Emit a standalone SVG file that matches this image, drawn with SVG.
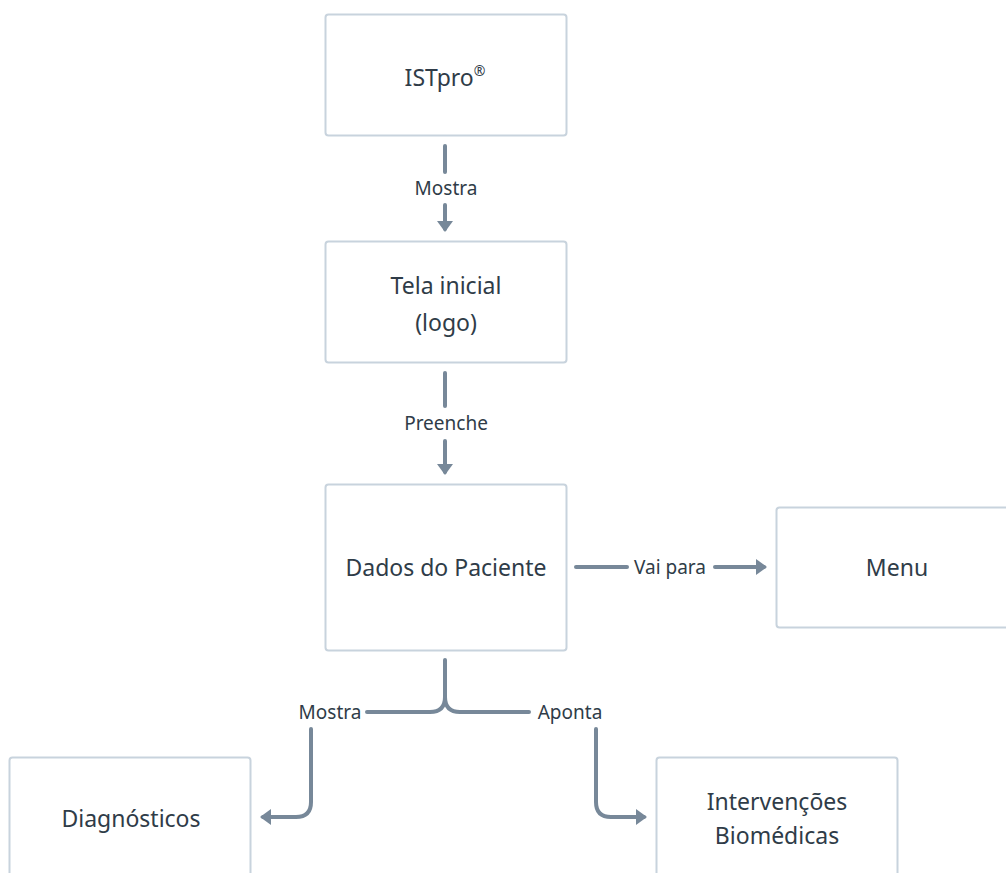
<svg xmlns="http://www.w3.org/2000/svg" width="1006" height="873" viewBox="0 0 1006 873">
<style>
.box{fill:#ffffff;stroke:#c8d3dd;stroke-width:2}
.t{font-family:"Noto Sans","Liberation Sans",sans-serif;font-size:23px;fill:#2f3c48;text-anchor:middle;dominant-baseline:central}
.l{font-family:"Noto Sans","Liberation Sans",sans-serif;font-size:19px;fill:#2f3c48;text-anchor:middle;dominant-baseline:central}
.c{fill:none;stroke:#778899;stroke-width:4;stroke-linecap:round}
</style>
<defs>
<marker id="ah" markerUnits="userSpaceOnUse" markerWidth="20" markerHeight="20" viewBox="0 0 20 20" refX="8" refY="10" orient="auto">
<path d="M0,2 L11,10 L0,18 Z" fill="#778899"/>
</marker>
</defs>
<rect width="1006" height="873" fill="#ffffff"/>
<g id="n-istpro"><rect class="box" x="325.5" y="14.5" width="241" height="121" rx="3"/><text class="t" x="445" y="77">ISTpro<tspan font-size="14" dy="-7">®</tspan></text></g>
<g id="n-tela"><rect class="box" x="325.5" y="241.5" width="241" height="121" rx="3"/><text class="t" x="446" y="285">Tela inicial</text><text class="t" x="446" y="322">(logo)</text></g>
<g id="n-dados"><rect class="box" x="325.5" y="484.5" width="241" height="166" rx="3"/><text class="t" x="446" y="567">Dados do Paciente</text></g>
<g id="n-menu"><rect class="box" x="776.5" y="507.5" width="241" height="120" rx="3"/><text class="t" x="897" y="567">Menu</text></g>
<g id="n-diag"><rect class="box" x="9.5" y="757.5" width="241" height="130" rx="3"/><text class="t" x="131" y="818">Diagnósticos</text></g>
<g id="n-interv"><rect class="box" x="656.5" y="757.5" width="241" height="130" rx="3"/><text class="t" x="777" y="801">Intervenções</text><text class="t" x="777" y="835">Biomédicas</text></g>
<g id="connectors">
<path class="c" d="M445,146 V172"/>
<path class="c" d="M445,205 V229" marker-end="url(#ah)"/>
<text class="l" x="446" y="188">Mostra</text>
<path class="c" d="M445,373 V406"/>
<path class="c" d="M445,441 V472" marker-end="url(#ah)"/>
<text class="l" x="446" y="423">Preenche</text>
<path class="c" d="M576,567 H627"/>
<path class="c" d="M715,567 H764" marker-end="url(#ah)"/>
<text class="l" x="670" y="567">Vai para</text>
<path class="c" d="M445,660 V697 Q445,712 430,712 H367"/>
<path class="c" d="M445,697 Q445,712 460,712 H529"/>
<text class="l" x="330" y="712">Mostra</text>
<text class="l" x="570" y="712">Aponta</text>
<path class="c" d="M311,729 V802 Q311,817 296,817 H263" marker-end="url(#ah)"/>
<path class="c" d="M596,729 V802 Q596,817 611,817 H644" marker-end="url(#ah)"/>
</g>
</svg>
